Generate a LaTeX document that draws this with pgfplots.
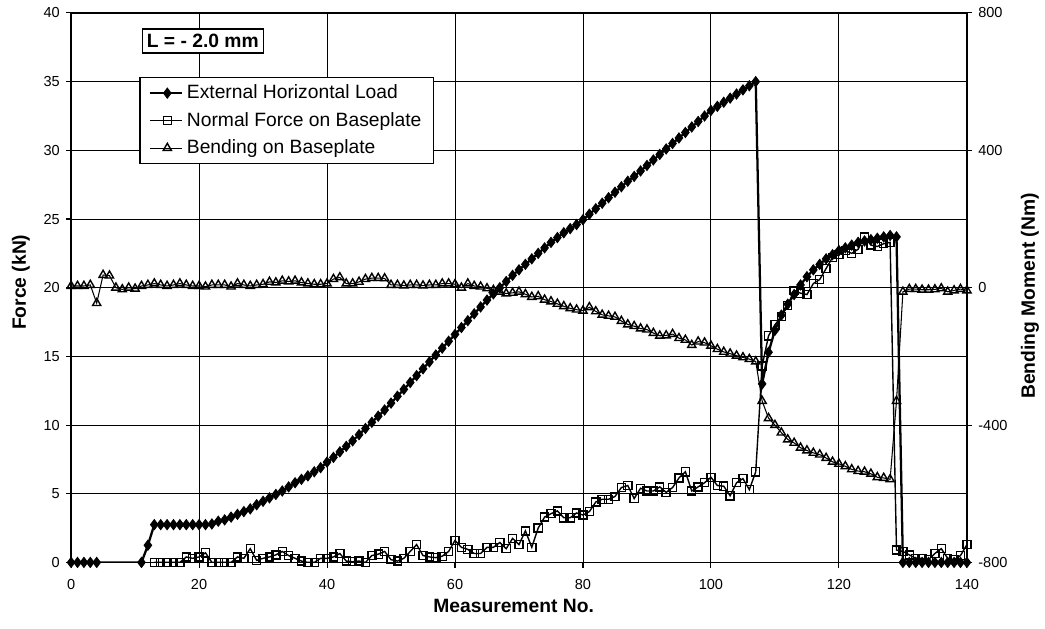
\documentclass[border=0pt]{standalone}
\usepackage{fontspec}
\setmainfont{Liberation Sans}
\usepackage{pgfplots}
\pgfplotsset{compat=1.18}
\usepackage{pgfplotstable}

\pgfplotstableread{
x y
0 0
1 0
2 0
3 0
4 0
11 0
12 1.25
13 2.75
14 2.75
15 2.75
16 2.75
17 2.75
18 2.75
19 2.75
20 2.75
21 2.75
22 2.8
23 3.0
24 3.1
25 3.3
26 3.5
27 3.7
28 3.9
29 4.2
30 4.45
31 4.7
32 4.95
33 5.2
34 5.5
35 5.8
36 6.05
37 6.3
38 6.6
39 6.9
40 7.3
41 7.65
42 8.05
43 8.45
44 8.85
45 9.3
46 9.75
47 10.2
48 10.65
49 11.1
50 11.6
51 12.1
52 12.6
53 13.1
54 13.6
55 14.1
56 14.6
57 15.1
58 15.6
59 16.1
60 16.6
61 17.1
62 17.6
63 18.1
64 18.6
65 19.1
66 19.55
67 20.0
68 20.45
69 20.9
70 21.3
71 21.7
72 22.1
73 22.5
74 22.9
75 23.3
76 23.65
77 24.0
78 24.3
79 24.6
80 24.95
81 25.35
82 25.75
83 26.15
84 26.55
85 26.95
86 27.35
87 27.75
88 28.1
89 28.5
90 28.9
91 29.3
92 29.7
93 30.1
94 30.5
95 30.9
96 31.3
97 31.7
98 32.1
99 32.5
100 32.9
101 33.2
102 33.5
103 33.8
104 34.1
105 34.4
106 34.7
107 35.0
108 13.0
109 15.3
110 16.9
111 18.0
112 18.8
113 19.5
114 20.2
115 20.8
116 21.3
117 21.7
118 22.1
119 22.4
120 22.7
121 22.9
122 23.1
123 23.3
124 23.4
125 23.5
126 23.6
127 23.7
128 23.8
129 23.7
130 0
131 0
132 0
133 0
134 0
135 0
136 0
137 0
138 0
139 0
140 0
}\extload

\pgfplotstableread{
x y
13 0
14 0
15 0
16 0
17 0
18 0.4
19 0.3
20 0.4
21 0.7
22 0
23 0
24 0
25 0
26 0.4
27 0.3
28 1.0
29 0.15
30 0.3
31 0.4
32 0.55
33 0.8
34 0.5
35 0.3
36 0.1
37 0
38 0
39 0.3
40 0.3
41 0.4
42 0.65
43 0.1
44 0.05
45 0.1
46 0
47 0.5
48 0.6
49 0.8
50 0.2
51 0.1
52 0.3
53 0.8
54 1.3
55 0.5
56 0.4
57 0.35
58 0.45
59 0.8
60 1.6
61 1.1
62 0.95
63 0.65
64 0.65
65 1.1
66 1.1
67 1.45
68 1.0
69 1.75
70 1.3
71 2.3
72 1.1
73 2.5
74 3.3
75 3.55
76 3.75
77 3.25
78 3.25
79 3.6
80 3.45
81 3.7
82 4.4
83 4.6
84 4.6
85 4.8
86 5.45
87 5.6
88 4.65
89 5.4
90 5.2
91 5.2
92 5.5
93 5.1
94 5.45
95 6.15
96 6.6
97 5.2
98 5.5
99 5.8
100 6.2
101 5.6
102 5.55
103 4.85
104 5.8
105 6.1
106 5.3
107 6.6
108 14.3
109 16.5
110 17.3
111 17.9
112 18.7
113 19.8
114 19.6
115 19.5
116 20.3
117 20.6
118 21.4
119 22.2
120 22.4
121 22.7
122 22.5
123 22.8
124 23.7
125 23.1
126 23.0
127 23.2
128 23.3
129 0.9
130 0.8
131 0.55
132 0.3
133 0.3
134 0.2
135 0.65
136 1.0
137 0.3
138 0.2
139 0.5
140 1.3
}\normalforce

\pgfplotstableread{
x y
0 5
1 5
2 5
3 8
4 -45
5 37
6 35
7 0
8 -5
9 0
10 -3
11 5
12 8
13 12
14 8
15 5
16 8
17 12
18 8
19 5
20 5
21 3
22 8
23 8
24 8
25 3
26 12
27 8
28 5
29 8
30 10
31 17
32 15
33 20
34 18
35 20
36 15
37 12
38 10
39 10
40 12
41 25
42 30
43 12
44 12
45 17
46 25
47 28
48 28
49 27
50 8
51 8
52 6
53 8
54 8
55 6
56 8
57 8
58 12
59 12
60 10
61 0
62 12
63 5
64 3
65 -2
66 -7
67 -12
68 -17
69 -15
70 -12
71 -19
72 -27
73 -25
74 -35
75 -40
76 -47
77 -54
78 -60
79 -64
80 -67
81 -57
82 -69
83 -79
84 -82
85 -85
86 -97
87 -107
88 -112
89 -119
90 -122
91 -132
92 -140
93 -139
94 -135
95 -147
96 -152
97 -167
98 -157
99 -160
100 -169
101 -179
102 -187
103 -192
104 -198
105 -203
106 -208
107 -215
108 -330
109 -380
110 -400
111 -422
112 -442
113 -452
114 -466
115 -474
116 -481
117 -486
118 -496
119 -507
120 -513
121 -520
122 -529
123 -534
124 -536
125 -542
126 -552
127 -554
128 -558
129 -330
130 -12
131 -4
132 -4
133 -6
134 -6
135 -5
136 -2
137 -12
138 -8
139 -4
140 -8
}\bending

\tikzset{
  extstyle/.style={black, line width=1.3pt, mark=diamond*, mark size=2.9pt, mark options={solid, fill=black, line width=0.5pt}},
  normstyle/.style={black, line width=0.8pt, mark=square, mark size=2.3pt, mark options={solid, line width=0.8pt}},
  bendstyle/.style={black, line width=0.6pt, mark=triangle, mark size=2.7pt, mark options={solid, line width=0.8pt}},
}

\begin{document}
\begin{tikzpicture}
\path[use as bounding box] (-40.6pt,-37.7pt) rectangle (556.0pt,321.1pt);
\begin{axis}[
  at={(0,0)}, anchor=south west,
  width=511.4pt, height=313.7pt, scale only axis,
  xmin=0, xmax=140, ymin=0, ymax=40,
  xtick={0,20,...,140}, ytick={0,5,...,40},
  tick pos=left,
  grid=major, major grid style={black, line width=0.55pt},
  axis line style={black, line width=1pt},
  tick align=outside, major tick length=3pt,
  tick style={black, line width=0.6pt},
  /pgf/number format/assume math mode=true,
  ticklabel style={font=\fontsize{8.3}{10}\selectfont},
  xticklabel style={yshift=-3pt},
  every axis x label/.style={at={(rel axis cs:0.494,-0.0797)}, anchor=center},
  every axis y label/.style={at={(rel axis cs:-0.056,0.51)}, anchor=center, rotate=90},
  label style={font=\bfseries\fontsize{11}{13}\selectfont},
  xlabel={Measurement No.},
  ylabel={Force (kN)},
]
\addplot[extstyle] table[x=x, y=y] {\extload};
\addplot[normstyle] table[x=x, y=y] {\normalforce};
\node[draw=black, line width=0.7pt, fill=white, font=\bfseries\fontsize{11}{13}\selectfont, inner xsep=2.5pt, inner ysep=3pt] at (rel axis cs:0.147,0.949) {L = - 2.0 mm};
\end{axis}
\begin{axis}[
  at={(0,0)}, anchor=south west,
  width=511.4pt, height=313.7pt, scale only axis,
  xmin=0, xmax=140, ymin=-800, ymax=800,
  axis x line=none,
  axis y line*=right,
  axis line style={black, line width=1pt},
  ytick={-800,-400,0,400,800},
  yticklabels={-800,-400,0,400,800},
  tick align=outside, major tick length=3pt,
  tick style={black, line width=0.6pt},
  ticklabel style={font=\fontsize{8.3}{10}\selectfont},
  every axis y label/.style={at={(rel axis cs:1.0704,0.485)}, anchor=center, rotate=90},
  label style={font=\bfseries\fontsize{11}{13}\selectfont},
  ylabel={Bending Moment (Nm)},
  legend cell align=left,
  legend style={at={(rel axis cs:0.0762,0.883)}, anchor=north west,
    draw=black, line width=0.7pt, fill=white,
    font=\fontsize{11}{13}\selectfont,
    inner xsep=5pt, inner ysep=2pt, row sep=2.2pt},
  legend image code/.code={\draw[#1] (0cm,0cm) -- (0.35cm,0cm) plot coordinates {(0.35cm,0cm)} -- (0.65cm,0cm);},
]
\addlegendimage{extstyle}
\addlegendentry{External Horizontal Load}
\addlegendimage{normstyle}
\addlegendentry{Normal Force on Baseplate}
\addplot[bendstyle] table[x=x, y=y] {\bending};
\addlegendentry{Bending on Baseplate}
\end{axis}
\end{tikzpicture}
\end{document}
